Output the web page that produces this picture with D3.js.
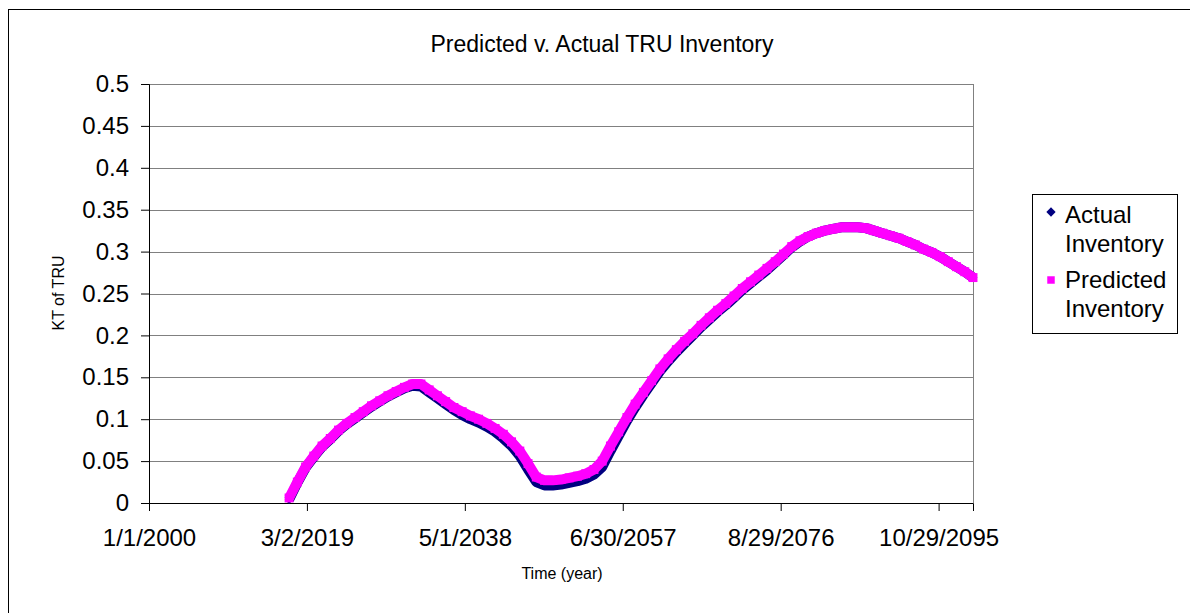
<!DOCTYPE html>
<meta charset="utf-8">

<!-- LOAD d3.js -->
<script src="https://d3js.org/d3.v7.min.js"></script>

<!-- create div for graph -->
<div id="tru"></div>
<style>
body{ margin:0; background:white; }
text{ font-family: "Liberation Sans", Arial, sans-serif; fill:#000; }
</style>

<script>
  // yearly points
  var years = [2017,2018,2019,2020,2021,2022,2023,2024,2025,2026,2027,2028,2029,2030,
    2031,2032,2033,2034,2035,2036,2037,2038,2039,2040,2041,2042,2043,2044,2045,2046,
    2047,2048,2049,2050,2051,2052,2053,2054,2055,2056,2057,2058,2059,2060,2061,2062,
    2063,2064,2065,2066,2067,2068,2069,2070,2071,2072,2073,2074,2075,2076,2077,2078,
    2079,2080,2081,2082,2083,2084,2085,2086,2087,2088,2089,2090,2091,2092,2093,2094,
    2095,2096,2097,2098,2099,2100];

  var actual = [0.004,0.024,0.042,0.055,0.067,0.076,0.086,0.094,0.101,0.108,0.115,0.121,0.127,0.132,
    0.137,0.140,0.139,0.132,0.125,0.118,0.111,0.105,0.100,0.096,0.091,0.085,0.077,0.068,0.056,0.040,
    0.025,0.021,0.021,0.022,0.024,0.026,0.029,0.034,0.043,0.062,0.080,0.098,0.114,0.129,0.143,0.157,
    0.169,0.180,0.190,0.200,0.210,0.219,0.228,0.236,0.245,0.254,0.262,0.270,0.278,0.287,0.296,0.305,
    0.312,0.318,0.322,0.325,0.327,0.329,0.329,0.329,0.328,0.325,0.322,0.319,0.316,0.312,0.308,0.303,
    0.299,0.294,0.288,0.282,0.276,0.269];

  var predicted = [0.006,0.025,0.043,0.056,0.068,0.077,0.087,0.095,0.102,0.109,0.116,0.122,0.128,0.133,
    0.138,0.142,0.142,0.135,0.128,0.121,0.114,0.109,0.104,0.100,0.095,0.089,0.082,0.073,0.062,0.047,
    0.031,0.027,0.027,0.028,0.030,0.032,0.035,0.040,0.050,0.068,0.085,0.102,0.118,0.132,0.146,0.160,
    0.172,0.183,0.193,0.202,0.212,0.221,0.230,0.238,0.247,0.256,0.264,0.272,0.280,0.288,0.297,0.306,
    0.313,0.318,0.322,0.325,0.327,0.329,0.329,0.329,0.328,0.325,0.322,0.319,0.316,0.312,0.308,0.303,
    0.299,0.294,0.288,0.282,0.276,0.269];

  var xTickDates = ["2000-01-01","2019-03-02","2038-05-01","2057-06-30","2076-08-29","2095-10-29"];
  var yTicks = [0,0.05,0.1,0.15,0.2,0.25,0.3,0.35,0.4,0.45,0.5];
  var seriesNames = [["Actual","Inventory"],["Predicted","Inventory"]];

  var margin = {top: 84, right: 217, bottom: 110, left: 149},
      width = 1190 - margin.left - margin.right,
      height = 613 - margin.top - margin.bottom;

  var svg = d3.select("#tru")
    .append("svg")
      .attr("width", 1190)
      .attr("height", 613);

  // chart border
  svg.append("rect")
    .attr("x", 8.5)
    .attr("y", 9.5)
    .attr("width", 1300)
    .attr("height", 700)
    .style("fill", "white")
    .style("stroke", "#000")
    .style("stroke-width", 1);

  var g = svg.append("g")
    .attr("transform", "translate(" + margin.left + "," + margin.top + ")");

  var parse = d3.utcParse("%Y-%m-%d");
  var fmt = d3.utcFormat("%-m/%-d/%Y");

  var x = d3.scaleUtc()
    .domain([Date.UTC(2000,0,1), Date.UTC(2100,0,1)])
    .range([0, width]);

  var y = d3.scaleLinear()
    .domain([0, 0.5])
    .range([height, 0]);

  // gridlines
  g.append("g")
    .selectAll("line")
    .data(yTicks.slice(1))
    .enter()
    .append("line")
      .attr("x1", 0)
      .attr("x2", width)
      .attr("y1", function(d){ return Math.round(y(d)) + 0.5; })
      .attr("y2", function(d){ return Math.round(y(d)) + 0.5; })
      .style("stroke", "#808080")
      .style("stroke-width", 1);

  // right edge of plot area
  g.append("line")
    .attr("x1", Math.round(width) + 0.5)
    .attr("x2", Math.round(width) + 0.5)
    .attr("y1", 0)
    .attr("y2", height)
    .style("stroke", "#808080");

  // Y axis
  var yAxis = g.append("g")
    .call(d3.axisLeft(y).tickValues(yTicks).tickSize(8).tickPadding(12)
      .tickFormat(function(d){ return String(d); }));
  yAxis.selectAll("text").style("font-size", "24px");

  // X axis
  var xAxis = g.append("g")
    .attr("transform", "translate(0," + height + ")")
    .call(d3.axisBottom(x).tickValues(xTickDates.map(function(d){ return parse(d); }))
      .tickSize(8).tickPadding(18).tickFormat(fmt));
  xAxis.selectAll("text").style("font-size", "24px");
  g.selectAll(".domain").style("stroke", "#000");
  g.selectAll(".tick line").style("stroke", "#000");

  // series
  var series = [
    {name: "actual", vals: actual, color: "#000080", shape: d3.symbolDiamond2, size: 50},
    {name: "predicted", vals: predicted, color: "#FF00FF", shape: d3.symbolSquare, size: 80}
  ];

  var line = d3.line()
    .x(function(d){ return x(Date.UTC(d[0],0,1)); })
    .y(function(d){ return y(d[1]); });

  series.forEach(function(s){
    var pts = years.map(function(yr,i){ return [yr, s.vals[i]]; });
    g.append("path")
      .datum(pts)
      .attr("d", line)
      .style("fill", "none")
      .style("stroke", s.color)
      .style("stroke-width", 10)
      .style("stroke-linejoin", "round");
    g.append("g")
      .selectAll("path")
      .data(pts)
      .enter()
      .append("path")
        .attr("transform", function(d){ return "translate(" + x(Date.UTC(d[0],0,1)) + "," + y(d[1]) + ")"; })
        .attr("d", d3.symbol().type(s.shape).size(s.size))
        .style("fill", s.color);
  });

  // title and axis labels
  svg.append("text")
    .attr("x", 602)
    .attr("y", 52)
    .attr("text-anchor", "middle")
    .style("font-size", "23px")
    .text("Predicted v. Actual TRU Inventory");

  svg.append("text")
    .attr("x", 562)
    .attr("y", 579)
    .attr("text-anchor", "middle")
    .style("font-size", "16px")
    .text("Time (year)");

  svg.append("text")
    .attr("transform", "translate(64,293) rotate(-90)")
    .attr("text-anchor", "middle")
    .style("font-size", "16px")
    .text("KT of TRU");

  // legend
  svg.append("rect")
    .attr("x", 1032.5)
    .attr("y", 194.5)
    .attr("width", 145)
    .attr("height", 139)
    .style("fill", "white")
    .style("stroke", "#000");

  var legY = [212, 280];
  svg.selectAll("mydots")
    .data(series)
    .enter()
    .append("path")
      .attr("transform", function(d,i){ return "translate(1051," + legY[i] + ")"; })
      .attr("d", function(d){ return d3.symbol().type(d.shape).size(d.name == "actual" ? 55 : 56)(); })
      .style("fill", function(d){ return d.color; });

  svg.selectAll("mylabels")
    .data(seriesNames)
    .enter()
    .append("text")
      .attr("x", 1065)
      .attr("y", function(d,i){ return 223 + i*65; })
      .style("font-size", "24px")
      .each(function(d){
        d3.select(this).selectAll("tspan")
          .data(d)
          .enter()
          .append("tspan")
            .attr("x", 1065)
            .attr("dy", function(t,j){ return j == 0 ? 0 : 29; })
            .text(function(t){ return t; });
      });
</script>
